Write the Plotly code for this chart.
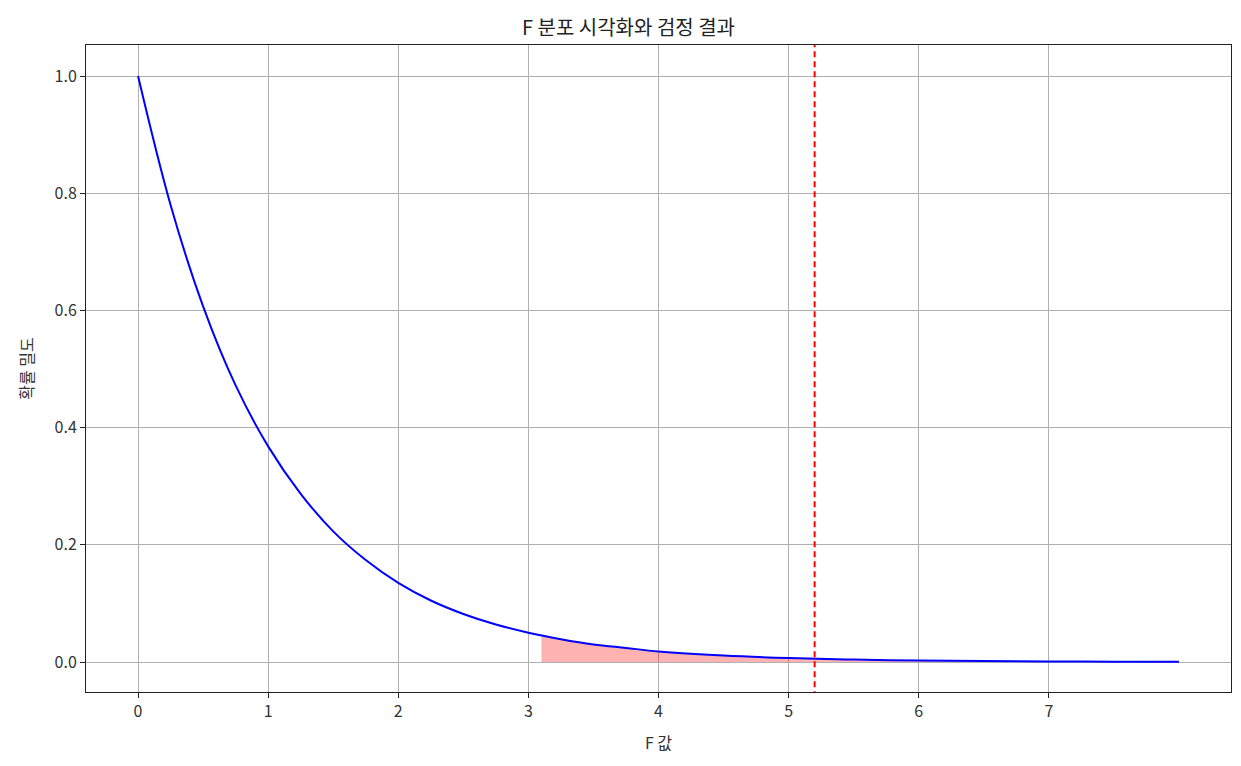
import plotly.graph_objects as go

# Density curve
f_values = [0, 0.25, 0.5, 0.75, 1, 1.25, 1.5, 1.75, 2, 2.25, 2.5, 2.75, 3, 3.25, 3.5, 3.75, 4, 4.5, 5, 5.5, 6, 6.5, 7, 7.5, 8]
density = [1.0, 0.78, 0.607, 0.472, 0.368, 0.287, 0.223, 0.174, 0.135, 0.105, 0.082, 0.064, 0.050, 0.039, 0.030, 0.024, 0.018, 0.011, 0.0067, 0.0041, 0.0025, 0.0015, 0.0009, 0.0006, 0.0003]

# Shaded rejection region (from critical value onward)
fill_x = [3.1, 3.25, 3.5, 3.75, 4, 4.5, 5, 5.5, 6, 6.5, 7, 7.5, 8]
fill_y = [0.045, 0.039, 0.030, 0.024, 0.018, 0.011, 0.0067, 0.0041, 0.0025, 0.0015, 0.0009, 0.0006, 0.0003]

# Observed F statistic
f_stat = 5.2

x_ticks = [0, 1, 2, 3, 4, 5, 6, 7]
y_ticks = [0.0, 0.2, 0.4, 0.6, 0.8, 1.0]

FONT = "Noto Sans CJK KR"

fig = go.Figure()
fig.add_trace(go.Scatter(
    x=fill_x + fill_x[::-1], y=fill_y + [0] * len(fill_x),
    fill="toself", fillcolor="rgba(255,0,0,0.3)", line=dict(width=0),
    mode="lines", hoverinfo="skip", showlegend=False, line_shape="spline"))
fig.add_trace(go.Scatter(
    x=f_values, y=density, mode="lines", line=dict(color="blue", width=2, shape="spline"),
    showlegend=False))
fig.add_trace(go.Scatter(
    x=[f_stat, f_stat], y=[-0.06, 1.06], mode="lines",
    line=dict(color="red", width=2, dash="6px,4px"), showlegend=False))

axis_common = dict(showgrid=True, gridcolor="#b0b0b0", gridwidth=1, showline=True,
                   linecolor="#222", linewidth=1, mirror=True, ticks="outside",
                   ticklen=5, tickcolor="#222", zeroline=False,
                   tickfont=dict(family=FONT, size=16, color="#333"))
fig.update_xaxes(range=[-0.4, 8.4], tickvals=x_ticks, ticktext=[str(v) for v in x_ticks],
                 title=dict(text="F 값", font=dict(family=FONT, size=16, color="#333"), standoff=16),
                 **axis_common)
fig.update_yaxes(range=[-0.0512, 1.053], tickvals=y_ticks, ticktext=[f"{v:.1f}" for v in y_ticks],
                 title=dict(text="확률 밀도", font=dict(family=FONT, size=16, color="#333"), standoff=16),
                 **axis_common)
fig.update_layout(
    width=1241, height=766,
    plot_bgcolor="white", paper_bgcolor="white",
    margin=dict(l=78, r=18, t=37, b=82),
    title=dict(text="F 분포 시각화와 검정 결과", x=0.5, xanchor="center", y=0.974, yanchor="middle",
               font=dict(family=FONT, size=20, color="#222")),
)
fig.write_html("out.html")
